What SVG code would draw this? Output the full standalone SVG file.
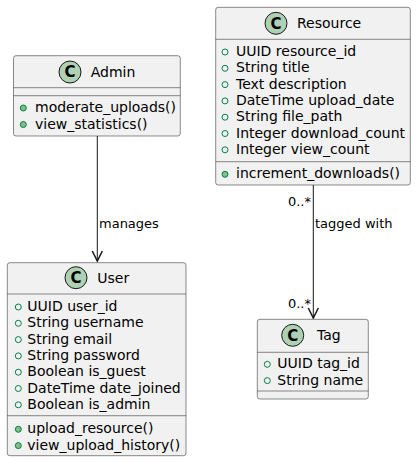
<svg xmlns="http://www.w3.org/2000/svg" width="416" height="462" viewBox="0 0 416 462">
<style>
.box{fill:#F1F1F1;stroke:#181818;stroke-width:0.5}
.sep{stroke:#181818;stroke-width:0.5}
.t{font-family:"DejaVu Sans",sans-serif;font-size:14px;fill:#000}
.l{font-family:"DejaVu Sans",sans-serif;font-size:13px;fill:#000}
.ci{fill:#ADD1B2;stroke:#181818;stroke-width:1}
.c{font-family:"DejaVu Sans",sans-serif;font-size:15px;font-weight:bold;fill:#000;text-anchor:middle}
.a{fill:none;stroke:#038048;stroke-width:1}
.m{fill:#84BE84;stroke:#038048;stroke-width:1}
.ln{stroke:#181818;stroke-width:1;fill:none}
.ah{stroke:#181818;stroke-width:1.5;fill:none}
</style>
<rect width="416" height="462" fill="#FFFFFF"/>
<g id="connectors">
<line class="ln" x1="97.3" y1="136" x2="97.3" y2="261"/>
<path class="ah" d="M92.3,251 L97.3,261 L102.3,251"/>
<text class="l" x="99" y="228">manages</text>
<line class="ln" x1="313.3" y1="185" x2="313.3" y2="318"/>
<path class="ah" d="M308.3,308 L313.3,318 L318.3,308"/>
<text class="l" x="311" y="205.5" text-anchor="end">0..*</text>
<text class="l" x="315" y="227.5">tagged with</text>
<text class="l" x="311" y="308" text-anchor="end">0..*</text>
</g>
<g id="Admin">
<rect class="box" x="13.5" y="55.7" width="166.8" height="80.3" rx="2.5"/>
<line class="sep" x1="13.5" y1="87.7" x2="180.3" y2="87.7"/>
<line class="sep" x1="13.5" y1="95.7" x2="180.3" y2="95.7"/>
<circle class="ci" cx="70" cy="72" r="11"/>
<text class="c" x="70" y="77.3">C</text>
<text class="t" x="90.7" y="77">Admin</text>
<circle class="m" cx="23.3" cy="108" r="3"/>
<text class="t" x="35" y="112">moderate_uploads()</text>
<circle class="m" cx="23.3" cy="124.5" r="3"/>
<text class="t" x="35" y="128.5">view_statistics()</text>
</g>
<g id="Resource">
<rect class="box" x="215.7" y="7.3" width="194.6" height="177.7" rx="2.5"/>
<line class="sep" x1="215.7" y1="39.3" x2="410.3" y2="39.3"/>
<line class="sep" x1="215.7" y1="161.7" x2="410.3" y2="161.7"/>
<circle class="ci" cx="276" cy="23.3" r="11"/>
<text class="c" x="276" y="28.6">C</text>
<text class="t" x="297" y="28.3">Resource</text>
<circle class="a" cx="225" cy="52" r="3"/>
<text class="t" x="236" y="56">UUID resource_id</text>
<circle class="a" cx="225" cy="68.3" r="3"/>
<text class="t" x="236" y="72.3">String title</text>
<circle class="a" cx="225" cy="84.6" r="3"/>
<text class="t" x="236" y="88.6">Text description</text>
<circle class="a" cx="225" cy="100.9" r="3"/>
<text class="t" x="236" y="104.9">DateTime upload_date</text>
<circle class="a" cx="225" cy="117.2" r="3"/>
<text class="t" x="236" y="121.2">String file_path</text>
<circle class="a" cx="225" cy="133.5" r="3"/>
<text class="t" x="236" y="137.5">Integer download_count</text>
<circle class="a" cx="225" cy="149.8" r="3"/>
<text class="t" x="236" y="153.8">Integer view_count</text>
<circle class="m" cx="225" cy="174.3" r="3"/>
<text class="t" x="236" y="178.3">increment_downloads()</text>
</g>
<g id="User">
<rect class="box" x="7.3" y="262.7" width="178.7" height="193" rx="2.5"/>
<line class="sep" x1="7.3" y1="294" x2="186" y2="294"/>
<line class="sep" x1="7.3" y1="415.7" x2="186" y2="415.7"/>
<circle class="ci" cx="76" cy="277.7" r="11"/>
<text class="c" x="76" y="283">C</text>
<text class="t" x="97.3" y="282.7">User</text>
<circle class="a" cx="18.3" cy="307" r="3"/>
<text class="t" x="27.3" y="311">UUID user_id</text>
<circle class="a" cx="18.3" cy="323.3" r="3"/>
<text class="t" x="27.3" y="327.3">String username</text>
<circle class="a" cx="18.3" cy="339.6" r="3"/>
<text class="t" x="27.3" y="343.6">String email</text>
<circle class="a" cx="18.3" cy="355.9" r="3"/>
<text class="t" x="27.3" y="359.9">String password</text>
<circle class="a" cx="18.3" cy="372.2" r="3"/>
<text class="t" x="27.3" y="376.2">Boolean is_guest</text>
<circle class="a" cx="18.3" cy="388.5" r="3"/>
<text class="t" x="27.3" y="392.5">DateTime date_joined</text>
<circle class="a" cx="18.3" cy="404.8" r="3"/>
<text class="t" x="27.3" y="408.8">Boolean is_admin</text>
<circle class="m" cx="18.3" cy="429.3" r="3"/>
<text class="t" x="27.3" y="433.3">upload_resource()</text>
<circle class="m" cx="18.3" cy="445.6" r="3"/>
<text class="t" x="27.3" y="449.6">view_upload_history()</text>
</g>
<g id="Tag">
<rect class="box" x="257.3" y="319.3" width="111" height="79.7" rx="2.5"/>
<line class="sep" x1="257.3" y1="352.3" x2="368.3" y2="352.3"/>
<line class="sep" x1="257.3" y1="391" x2="368.3" y2="391"/>
<circle class="ci" cx="292.7" cy="335.3" r="11"/>
<text class="c" x="292.7" y="340.6">C</text>
<text class="t" x="317" y="340.3">Tag</text>
<circle class="a" cx="267.3" cy="364.3" r="3"/>
<text class="t" x="277.3" y="368.3">UUID tag_id</text>
<circle class="a" cx="267.3" cy="380.6" r="3"/>
<text class="t" x="277.3" y="384.6">String name</text>
</g>
</svg>
